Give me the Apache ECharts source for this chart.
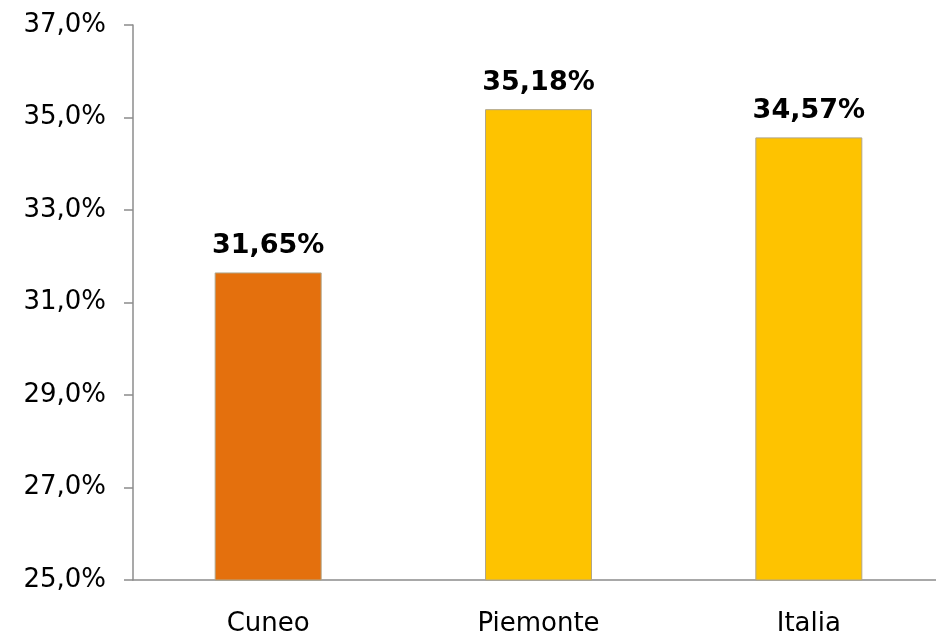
<!DOCTYPE html>
<html>
<head>
<meta charset="utf-8">
<script src="https://cdn.jsdelivr.net/npm/echarts@6/dist/echarts.min.js"></script>
<style>
  html, body { margin: 0; padding: 0; background: #fff; }
  #chart { width: 936px; height: 635px; }
</style>
</head>
<body>
<div id="chart"></div>
<script>
// dati
const categories = ['Cuneo', 'Piemonte', 'Italia'];
const values = [31.65, 35.18, 34.57];
const barColors = ['#E4700D', '#FEC300', '#FEC300'];

const yMin = 25, yMax = 37, yStep = 2;

function fmtPct(v, dec) {
    return v.toFixed(dec).replace('.', ',') + '%';
}

var dom = document.getElementById('chart');
var myChart = echarts.init(dom, null, { renderer: 'canvas' });

var option = {
    animation: false,
    textStyle: { fontFamily: 'DejaVu Sans' },
    grid: { left: 133, top: 25, width: 811, height: 555, containLabel: false, outerBoundsMode: 'none' },
    xAxis: {
        type: 'category',
        data: categories,
        axisLine: { lineStyle: { color: '#8c8c8c', width: 1.5 } },
        axisTick: { length: 9, lineStyle: { color: '#8c8c8c', width: 1.5 } },
        axisLabel: { color: '#000', fontSize: 26, margin: 31 }
    },
    yAxis: {
        type: 'value',
        min: yMin,
        max: yMax,
        interval: yStep,
        axisLine: { show: true, lineStyle: { color: '#8c8c8c', width: 1.5 } },
        axisTick: { show: true, length: 9, lineStyle: { color: '#8c8c8c', width: 1.5 } },
        splitLine: { show: false },
        axisLabel: {
            color: '#000',
            fontSize: 26,
            margin: 27,
            padding: [6, 0, 0, 0],
            formatter: function (v) { return fmtPct(v, 1); }
        }
    },
    series: [{
        type: 'bar',
        barWidth: 107,
        data: values.map(function (v, i) {
            return { value: v, itemStyle: { color: barColors[i], borderColor: '#b0a68a', borderWidth: 1 } };
        }),
        label: {
            show: true,
            position: 'top',
            distance: 13,
            color: '#000',
            fontSize: 27,
            fontWeight: 'bold',
            formatter: function (p) { return fmtPct(p.value, 2); }
        }
    }]
};

myChart.setOption(option);
</script>
</body>
</html>
